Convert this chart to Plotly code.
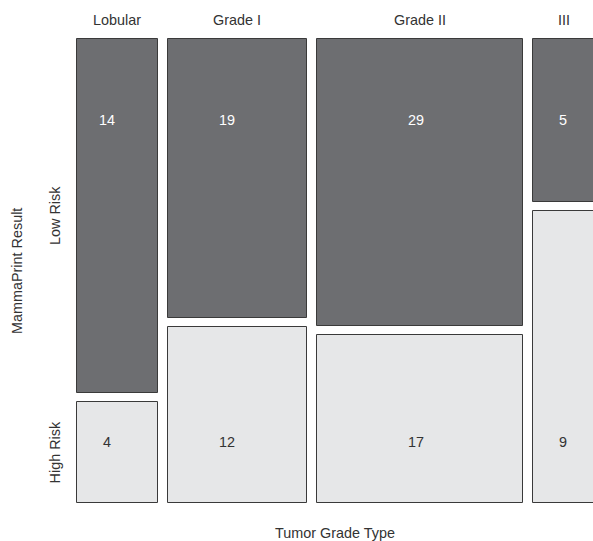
import plotly.graph_objects as go

categories = ["Lobular", "Grade I", "Grade II", "III"]
low_risk = [14, 19, 29, 5]
high_risk = [4, 12, 17, 9]
row_labels = ["Low Risk", "High Risk"]

W, H = 593, 541
ml, mt, mb = 76, 37, 36
px_per_unit = 4.48          # horizontal pixels per case
gap_x = 10 / px_per_unit     # gap between columns in case units
gap_y = 9 / 464              # gap between rows (fraction)
num_xshift = [-10, -10, -4, -1]   # label nudges (style)

totals = [a + b for a, b in zip(low_risk, high_risk)]
lefts, x = [], 0.0
for t in totals:
    lefts.append(x)
    x += t + gap_x
centers = [l + t / 2 for l, t in zip(lefts, totals)]

hi_h = [h / t * (1 - gap_y) for h, t in zip(high_risk, totals)]
lo_h = [l / t * (1 - gap_y) for l, t in zip(low_risk, totals)]
lo_base = [h + gap_y for h in hi_h]

plot_w = W - ml
x0 = -1 / px_per_unit
x1 = x0 + plot_w / px_per_unit
pad = 2 / 464

fig = go.Figure()
fig.add_trace(go.Bar(x=centers, y=hi_h, base=[0] * 4, width=totals,
                     marker=dict(color="#e6e7e8", line=dict(color="#3a3a3a", width=1)),
                     textposition="none", hoverinfo="skip", showlegend=False))
fig.add_trace(go.Bar(x=centers, y=lo_h, base=lo_base, width=totals,
                     marker=dict(color="#6d6e71", line=dict(color="#3a3a3a", width=1)),
                     textposition="none", hoverinfo="skip", showlegend=False))

font = "Liberation Sans, Arial, sans-serif"
fs = 14.4
tc = "#333333"
ann = []
for c, lab, lo, hi, dx in zip(centers, categories, low_risk, high_risk, num_xshift):
    ann.append(dict(x=c, y=1.0, xref="x", yref="paper", yshift=17, text=lab,
                    xanchor="center", yanchor="middle",
                    showarrow=False, font=dict(size=fs, color=tc, family=font)))
    ann.append(dict(x=c, y=0.825, xref="x", yref="y", text=str(lo), showarrow=False,
                    xanchor="center", yanchor="middle",
                    xshift=dx, font=dict(size=fs, color="#ffffff", family=font)))
    ann.append(dict(x=c, y=0.132, xref="x", yref="y", text=str(hi), showarrow=False,
                    xanchor="center", yanchor="middle",
                    xshift=dx, font=dict(size=fs, color=tc, family=font)))

ann.append(dict(x=0.5, y=0, xref="paper", yref="paper", yshift=-28, text="Tumor Grade Type",
                xanchor="center", yanchor="middle",
                showarrow=False, font=dict(size=fs, color=tc, family=font)))
ann.append(dict(x=0, y=0.5, xref="paper", yref="paper", xshift=-59,
                xanchor="center", yanchor="middle",
                text="MammaPrint Result", textangle=-90, showarrow=False,
                font=dict(size=fs, color=tc, family=font)))
# row labels at centres of the first column's cells
ann.append(dict(x=0, y=lo_base[0] + lo_h[0] / 2, xref="paper", yref="y", xshift=-21,
                xanchor="center", yanchor="middle",
                text=row_labels[0], textangle=-90, showarrow=False,
                font=dict(size=fs, color=tc, family=font)))
ann.append(dict(x=0, y=hi_h[0] / 2, xref="paper", yref="y", xshift=-21,
                xanchor="center", yanchor="middle",
                text=row_labels[1], textangle=-90, showarrow=False,
                font=dict(size=fs, color=tc, family=font)))

fig.update_layout(
    width=W, height=H,
    margin=dict(l=ml, r=0, t=mt, b=mb),
    paper_bgcolor="white", plot_bgcolor="white",
    barmode="overlay", bargap=0,
    xaxis=dict(range=[x0, x1], visible=False, fixedrange=True),
    yaxis=dict(range=[-pad, 1 + pad], visible=False, fixedrange=True),
    annotations=ann,
)
fig.write_html("out.html")
